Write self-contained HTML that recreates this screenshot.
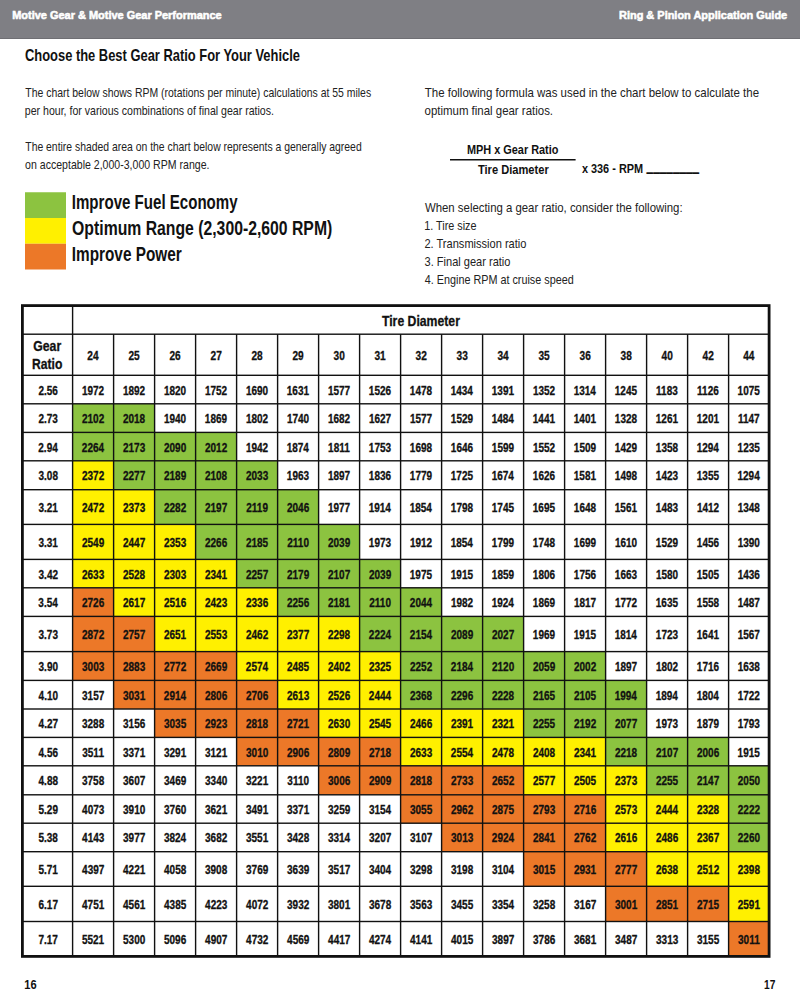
<!DOCTYPE html>
<html><head><meta charset="utf-8"><title>Ring &amp; Pinion Application Guide</title>
<style>
html,body{margin:0;padding:0;background:#fff;}
body{width:800px;height:994px;overflow:hidden;}
svg{display:block;font-family:"Liberation Sans",Arial,sans-serif;}
</style></head><body>
<svg width="800" height="994" viewBox="0 0 800 994">
<rect x="0" y="0" width="800" height="38" fill="#7f7f84"/>
<rect x="0" y="38" width="800" height="1" fill="#6f6f74"/>
<text x="12.19" y="18.90" font-size="11.2" font-weight="bold" fill="#fff" textLength="209.53" lengthAdjust="spacingAndGlyphs" stroke="#fff" stroke-width="0.55">Motive Gear &amp; Motive Gear Performance</text>
<text x="618.99" y="18.90" font-size="11.2" font-weight="bold" fill="#fff" textLength="168.21" lengthAdjust="spacingAndGlyphs" stroke="#fff" stroke-width="0.55">Ring &amp; Pinion Application Guide</text>
<text x="24.98" y="60.50" font-size="16.4" font-weight="bold" fill="#111" textLength="275.00" lengthAdjust="spacingAndGlyphs">Choose the Best Gear Ratio For Your Vehicle</text>
<text x="25.29" y="96.50" font-size="13.1" font-weight="normal" fill="#222" textLength="345.83" lengthAdjust="spacingAndGlyphs">The chart below shows RPM (rotations per minute) calculations at 55 miles</text>
<text x="24.81" y="114.50" font-size="13.1" font-weight="normal" fill="#222" textLength="249.18" lengthAdjust="spacingAndGlyphs">per hour, for various combinations of final gear ratios.</text>
<text x="25.29" y="150.75" font-size="13.1" font-weight="normal" fill="#222" textLength="336.38" lengthAdjust="spacingAndGlyphs">The entire shaded area on the chart below represents a generally agreed</text>
<text x="25.08" y="168.75" font-size="13.1" font-weight="normal" fill="#222" textLength="184.39" lengthAdjust="spacingAndGlyphs">on acceptable 2,000-3,000 RPM range.</text>
<rect x="25" y="192.25" width="41" height="25.75" fill="#8cc340"/>
<rect x="25" y="218" width="41" height="25.75" fill="#fff000"/>
<rect x="25" y="243.75" width="41" height="25.75" fill="#ec7828"/>
<text x="71.77" y="209.40" font-size="19.8" font-weight="bold" fill="#111" textLength="165.84" lengthAdjust="spacingAndGlyphs">Improve Fuel Economy</text>
<text x="72.12" y="235.00" font-size="19.8" font-weight="bold" fill="#111" textLength="260.16" lengthAdjust="spacingAndGlyphs">Optimum Range (2,300-2,600 RPM)</text>
<text x="71.75" y="260.60" font-size="19.8" font-weight="bold" fill="#111" textLength="109.96" lengthAdjust="spacingAndGlyphs">Improve Power</text>
<text x="424.77" y="96.50" font-size="13.1" font-weight="normal" fill="#222" textLength="334.27" lengthAdjust="spacingAndGlyphs">The following formula was used in the chart below to calculate the</text>
<text x="424.54" y="114.50" font-size="13.1" font-weight="normal" fill="#222" textLength="128.51" lengthAdjust="spacingAndGlyphs">optimum final gear ratios.</text>
<text x="466.89" y="153.70" font-size="13.7" font-weight="bold" fill="#111" textLength="91.56" lengthAdjust="spacingAndGlyphs">MPH x Gear Ratio</text>
<rect x="450" y="159" width="125.6" height="1.5" fill="#111"/>
<text x="477.89" y="174.20" font-size="13.7" font-weight="bold" fill="#111" textLength="70.86" lengthAdjust="spacingAndGlyphs">Tire Diameter</text>
<text x="581.89" y="172.70" font-size="13.7" font-weight="bold" fill="#111" textLength="61.26" lengthAdjust="spacingAndGlyphs">x 336 - RPM</text>
<text x="646.62" y="168.50" font-size="44" font-weight="bold" fill="#111" textLength="52.56" lengthAdjust="spacingAndGlyphs">________</text>
<text x="424.94" y="212.00" font-size="13.1" font-weight="normal" fill="#222" textLength="257.63" lengthAdjust="spacingAndGlyphs">When selecting a gear ratio, consider the following:</text>
<text x="424.19" y="230.00" font-size="13.1" font-weight="normal" fill="#222" textLength="52.30" lengthAdjust="spacingAndGlyphs">1. Tire size</text>
<text x="424.45" y="247.75" font-size="13.1" font-weight="normal" fill="#222" textLength="102.00" lengthAdjust="spacingAndGlyphs">2. Transmission ratio</text>
<text x="424.56" y="265.75" font-size="13.1" font-weight="normal" fill="#222" textLength="85.90" lengthAdjust="spacingAndGlyphs">3. Final gear ratio</text>
<text x="424.78" y="283.75" font-size="13.1" font-weight="normal" fill="#222" textLength="148.92" lengthAdjust="spacingAndGlyphs">4. Engine RPM at cruise speed</text>
<rect x="21.0" y="304.2" width="749.5" height="653.5999999999999" fill="#fff"/>
<rect x="72.60" y="403.80" width="41.00" height="28.60" fill="#8cc340"/>
<rect x="113.60" y="403.80" width="41.00" height="28.60" fill="#8cc340"/>
<rect x="72.60" y="432.40" width="41.00" height="28.40" fill="#8cc340"/>
<rect x="113.60" y="432.40" width="41.00" height="28.40" fill="#8cc340"/>
<rect x="154.60" y="432.40" width="41.00" height="28.40" fill="#8cc340"/>
<rect x="195.60" y="432.40" width="41.00" height="28.40" fill="#8cc340"/>
<rect x="72.60" y="460.80" width="41.00" height="28.90" fill="#fff000"/>
<rect x="113.60" y="460.80" width="41.00" height="28.90" fill="#8cc340"/>
<rect x="154.60" y="460.80" width="41.00" height="28.90" fill="#8cc340"/>
<rect x="195.60" y="460.80" width="41.00" height="28.90" fill="#8cc340"/>
<rect x="236.60" y="460.80" width="41.00" height="28.90" fill="#8cc340"/>
<rect x="72.60" y="489.70" width="41.00" height="34.70" fill="#fff000"/>
<rect x="113.60" y="489.70" width="41.00" height="34.70" fill="#fff000"/>
<rect x="154.60" y="489.70" width="41.00" height="34.70" fill="#8cc340"/>
<rect x="195.60" y="489.70" width="41.00" height="34.70" fill="#8cc340"/>
<rect x="236.60" y="489.70" width="41.00" height="34.70" fill="#8cc340"/>
<rect x="277.60" y="489.70" width="41.00" height="34.70" fill="#8cc340"/>
<rect x="72.60" y="524.40" width="41.00" height="35.00" fill="#fff000"/>
<rect x="113.60" y="524.40" width="41.00" height="35.00" fill="#fff000"/>
<rect x="154.60" y="524.40" width="41.00" height="35.00" fill="#fff000"/>
<rect x="195.60" y="524.40" width="41.00" height="35.00" fill="#8cc340"/>
<rect x="236.60" y="524.40" width="41.00" height="35.00" fill="#8cc340"/>
<rect x="277.60" y="524.40" width="41.00" height="35.00" fill="#8cc340"/>
<rect x="318.60" y="524.40" width="41.00" height="35.00" fill="#8cc340"/>
<rect x="72.60" y="559.40" width="41.00" height="28.40" fill="#fff000"/>
<rect x="113.60" y="559.40" width="41.00" height="28.40" fill="#fff000"/>
<rect x="154.60" y="559.40" width="41.00" height="28.40" fill="#fff000"/>
<rect x="195.60" y="559.40" width="41.00" height="28.40" fill="#fff000"/>
<rect x="236.60" y="559.40" width="41.00" height="28.40" fill="#8cc340"/>
<rect x="277.60" y="559.40" width="41.00" height="28.40" fill="#8cc340"/>
<rect x="318.60" y="559.40" width="41.00" height="28.40" fill="#8cc340"/>
<rect x="359.60" y="559.40" width="41.00" height="28.40" fill="#8cc340"/>
<rect x="72.60" y="587.80" width="41.00" height="28.60" fill="#ec7828"/>
<rect x="113.60" y="587.80" width="41.00" height="28.60" fill="#fff000"/>
<rect x="154.60" y="587.80" width="41.00" height="28.60" fill="#fff000"/>
<rect x="195.60" y="587.80" width="41.00" height="28.60" fill="#fff000"/>
<rect x="236.60" y="587.80" width="41.00" height="28.60" fill="#fff000"/>
<rect x="277.60" y="587.80" width="41.00" height="28.60" fill="#8cc340"/>
<rect x="318.60" y="587.80" width="41.00" height="28.60" fill="#8cc340"/>
<rect x="359.60" y="587.80" width="41.00" height="28.60" fill="#8cc340"/>
<rect x="400.60" y="587.80" width="41.00" height="28.60" fill="#8cc340"/>
<rect x="72.60" y="616.40" width="41.00" height="35.20" fill="#ec7828"/>
<rect x="113.60" y="616.40" width="41.00" height="35.20" fill="#ec7828"/>
<rect x="154.60" y="616.40" width="41.00" height="35.20" fill="#fff000"/>
<rect x="195.60" y="616.40" width="41.00" height="35.20" fill="#fff000"/>
<rect x="236.60" y="616.40" width="41.00" height="35.20" fill="#fff000"/>
<rect x="277.60" y="616.40" width="41.00" height="35.20" fill="#fff000"/>
<rect x="318.60" y="616.40" width="41.00" height="35.20" fill="#fff000"/>
<rect x="359.60" y="616.40" width="41.00" height="35.20" fill="#8cc340"/>
<rect x="400.60" y="616.40" width="41.00" height="35.20" fill="#8cc340"/>
<rect x="441.60" y="616.40" width="41.00" height="35.20" fill="#8cc340"/>
<rect x="482.60" y="616.40" width="41.00" height="35.20" fill="#8cc340"/>
<rect x="72.60" y="651.60" width="41.00" height="28.80" fill="#ec7828"/>
<rect x="113.60" y="651.60" width="41.00" height="28.80" fill="#ec7828"/>
<rect x="154.60" y="651.60" width="41.00" height="28.80" fill="#ec7828"/>
<rect x="195.60" y="651.60" width="41.00" height="28.80" fill="#ec7828"/>
<rect x="236.60" y="651.60" width="41.00" height="28.80" fill="#fff000"/>
<rect x="277.60" y="651.60" width="41.00" height="28.80" fill="#fff000"/>
<rect x="318.60" y="651.60" width="41.00" height="28.80" fill="#fff000"/>
<rect x="359.60" y="651.60" width="41.00" height="28.80" fill="#fff000"/>
<rect x="400.60" y="651.60" width="41.00" height="28.80" fill="#8cc340"/>
<rect x="441.60" y="651.60" width="41.00" height="28.80" fill="#8cc340"/>
<rect x="482.60" y="651.60" width="41.00" height="28.80" fill="#8cc340"/>
<rect x="523.60" y="651.60" width="41.00" height="28.80" fill="#8cc340"/>
<rect x="564.60" y="651.60" width="41.00" height="28.80" fill="#8cc340"/>
<rect x="113.60" y="680.40" width="41.00" height="28.60" fill="#ec7828"/>
<rect x="154.60" y="680.40" width="41.00" height="28.60" fill="#ec7828"/>
<rect x="195.60" y="680.40" width="41.00" height="28.60" fill="#ec7828"/>
<rect x="236.60" y="680.40" width="41.00" height="28.60" fill="#ec7828"/>
<rect x="277.60" y="680.40" width="41.00" height="28.60" fill="#fff000"/>
<rect x="318.60" y="680.40" width="41.00" height="28.60" fill="#fff000"/>
<rect x="359.60" y="680.40" width="41.00" height="28.60" fill="#fff000"/>
<rect x="400.60" y="680.40" width="41.00" height="28.60" fill="#8cc340"/>
<rect x="441.60" y="680.40" width="41.00" height="28.60" fill="#8cc340"/>
<rect x="482.60" y="680.40" width="41.00" height="28.60" fill="#8cc340"/>
<rect x="523.60" y="680.40" width="41.00" height="28.60" fill="#8cc340"/>
<rect x="564.60" y="680.40" width="41.00" height="28.60" fill="#8cc340"/>
<rect x="605.60" y="680.40" width="41.00" height="28.60" fill="#8cc340"/>
<rect x="154.60" y="709.00" width="41.00" height="28.40" fill="#ec7828"/>
<rect x="195.60" y="709.00" width="41.00" height="28.40" fill="#ec7828"/>
<rect x="236.60" y="709.00" width="41.00" height="28.40" fill="#ec7828"/>
<rect x="277.60" y="709.00" width="41.00" height="28.40" fill="#ec7828"/>
<rect x="318.60" y="709.00" width="41.00" height="28.40" fill="#fff000"/>
<rect x="359.60" y="709.00" width="41.00" height="28.40" fill="#fff000"/>
<rect x="400.60" y="709.00" width="41.00" height="28.40" fill="#fff000"/>
<rect x="441.60" y="709.00" width="41.00" height="28.40" fill="#fff000"/>
<rect x="482.60" y="709.00" width="41.00" height="28.40" fill="#fff000"/>
<rect x="523.60" y="709.00" width="41.00" height="28.40" fill="#8cc340"/>
<rect x="564.60" y="709.00" width="41.00" height="28.40" fill="#8cc340"/>
<rect x="605.60" y="709.00" width="41.00" height="28.40" fill="#8cc340"/>
<rect x="236.60" y="737.40" width="41.00" height="28.40" fill="#ec7828"/>
<rect x="277.60" y="737.40" width="41.00" height="28.40" fill="#ec7828"/>
<rect x="318.60" y="737.40" width="41.00" height="28.40" fill="#ec7828"/>
<rect x="359.60" y="737.40" width="41.00" height="28.40" fill="#ec7828"/>
<rect x="400.60" y="737.40" width="41.00" height="28.40" fill="#fff000"/>
<rect x="441.60" y="737.40" width="41.00" height="28.40" fill="#fff000"/>
<rect x="482.60" y="737.40" width="41.00" height="28.40" fill="#fff000"/>
<rect x="523.60" y="737.40" width="41.00" height="28.40" fill="#fff000"/>
<rect x="564.60" y="737.40" width="41.00" height="28.40" fill="#fff000"/>
<rect x="605.60" y="737.40" width="41.00" height="28.40" fill="#8cc340"/>
<rect x="646.60" y="737.40" width="41.00" height="28.40" fill="#8cc340"/>
<rect x="687.60" y="737.40" width="41.00" height="28.40" fill="#8cc340"/>
<rect x="318.60" y="765.80" width="41.00" height="29.00" fill="#ec7828"/>
<rect x="359.60" y="765.80" width="41.00" height="29.00" fill="#ec7828"/>
<rect x="400.60" y="765.80" width="41.00" height="29.00" fill="#ec7828"/>
<rect x="441.60" y="765.80" width="41.00" height="29.00" fill="#ec7828"/>
<rect x="482.60" y="765.80" width="41.00" height="29.00" fill="#ec7828"/>
<rect x="523.60" y="765.80" width="41.00" height="29.00" fill="#fff000"/>
<rect x="564.60" y="765.80" width="41.00" height="29.00" fill="#fff000"/>
<rect x="605.60" y="765.80" width="41.00" height="29.00" fill="#fff000"/>
<rect x="646.60" y="765.80" width="41.00" height="29.00" fill="#8cc340"/>
<rect x="687.60" y="765.80" width="41.00" height="29.00" fill="#8cc340"/>
<rect x="728.60" y="765.80" width="40.60" height="29.00" fill="#8cc340"/>
<rect x="400.60" y="794.80" width="41.00" height="28.40" fill="#ec7828"/>
<rect x="441.60" y="794.80" width="41.00" height="28.40" fill="#ec7828"/>
<rect x="482.60" y="794.80" width="41.00" height="28.40" fill="#ec7828"/>
<rect x="523.60" y="794.80" width="41.00" height="28.40" fill="#ec7828"/>
<rect x="564.60" y="794.80" width="41.00" height="28.40" fill="#ec7828"/>
<rect x="605.60" y="794.80" width="41.00" height="28.40" fill="#fff000"/>
<rect x="646.60" y="794.80" width="41.00" height="28.40" fill="#fff000"/>
<rect x="687.60" y="794.80" width="41.00" height="28.40" fill="#fff000"/>
<rect x="728.60" y="794.80" width="40.60" height="28.40" fill="#8cc340"/>
<rect x="441.60" y="823.20" width="41.00" height="28.50" fill="#ec7828"/>
<rect x="482.60" y="823.20" width="41.00" height="28.50" fill="#ec7828"/>
<rect x="523.60" y="823.20" width="41.00" height="28.50" fill="#ec7828"/>
<rect x="564.60" y="823.20" width="41.00" height="28.50" fill="#ec7828"/>
<rect x="605.60" y="823.20" width="41.00" height="28.50" fill="#fff000"/>
<rect x="646.60" y="823.20" width="41.00" height="28.50" fill="#fff000"/>
<rect x="687.60" y="823.20" width="41.00" height="28.50" fill="#fff000"/>
<rect x="728.60" y="823.20" width="40.60" height="28.50" fill="#8cc340"/>
<rect x="523.60" y="851.70" width="41.00" height="34.60" fill="#ec7828"/>
<rect x="564.60" y="851.70" width="41.00" height="34.60" fill="#ec7828"/>
<rect x="605.60" y="851.70" width="41.00" height="34.60" fill="#ec7828"/>
<rect x="646.60" y="851.70" width="41.00" height="34.60" fill="#fff000"/>
<rect x="687.60" y="851.70" width="41.00" height="34.60" fill="#fff000"/>
<rect x="728.60" y="851.70" width="40.60" height="34.60" fill="#fff000"/>
<rect x="605.60" y="886.30" width="41.00" height="35.20" fill="#ec7828"/>
<rect x="646.60" y="886.30" width="41.00" height="35.20" fill="#ec7828"/>
<rect x="687.60" y="886.30" width="41.00" height="35.20" fill="#ec7828"/>
<rect x="728.60" y="886.30" width="40.60" height="35.20" fill="#fff000"/>
<rect x="728.60" y="921.50" width="40.60" height="34.90" fill="#ec7828"/>
<rect x="71.90" y="305.20" width="1.4" height="651.60" fill="#111"/>
<rect x="112.90" y="334.20" width="1.4" height="622.60" fill="#111"/>
<rect x="153.90" y="334.20" width="1.4" height="622.60" fill="#111"/>
<rect x="194.90" y="334.20" width="1.4" height="622.60" fill="#111"/>
<rect x="235.90" y="334.20" width="1.4" height="622.60" fill="#111"/>
<rect x="276.90" y="334.20" width="1.4" height="622.60" fill="#111"/>
<rect x="317.90" y="334.20" width="1.4" height="622.60" fill="#111"/>
<rect x="358.90" y="334.20" width="1.4" height="622.60" fill="#111"/>
<rect x="399.90" y="334.20" width="1.4" height="622.60" fill="#111"/>
<rect x="440.90" y="334.20" width="1.4" height="622.60" fill="#111"/>
<rect x="481.90" y="334.20" width="1.4" height="622.60" fill="#111"/>
<rect x="522.90" y="334.20" width="1.4" height="622.60" fill="#111"/>
<rect x="563.90" y="334.20" width="1.4" height="622.60" fill="#111"/>
<rect x="604.90" y="334.20" width="1.4" height="622.60" fill="#111"/>
<rect x="645.90" y="334.20" width="1.4" height="622.60" fill="#111"/>
<rect x="686.90" y="334.20" width="1.4" height="622.60" fill="#111"/>
<rect x="727.90" y="334.20" width="1.4" height="622.60" fill="#111"/>
<rect x="22.0" y="333.50" width="747.50" height="1.4" fill="#111"/>
<rect x="22.0" y="374.60" width="747.50" height="1.4" fill="#111"/>
<rect x="22.0" y="403.10" width="747.50" height="1.4" fill="#111"/>
<rect x="22.0" y="431.70" width="747.50" height="1.4" fill="#111"/>
<rect x="22.0" y="460.10" width="747.50" height="1.4" fill="#111"/>
<rect x="22.0" y="489.00" width="747.50" height="1.4" fill="#111"/>
<rect x="22.0" y="523.70" width="747.50" height="1.4" fill="#111"/>
<rect x="22.0" y="558.70" width="747.50" height="1.4" fill="#111"/>
<rect x="22.0" y="587.10" width="747.50" height="1.4" fill="#111"/>
<rect x="22.0" y="615.70" width="747.50" height="1.4" fill="#111"/>
<rect x="22.0" y="650.90" width="747.50" height="1.4" fill="#111"/>
<rect x="22.0" y="679.70" width="747.50" height="1.4" fill="#111"/>
<rect x="22.0" y="708.30" width="747.50" height="1.4" fill="#111"/>
<rect x="22.0" y="736.70" width="747.50" height="1.4" fill="#111"/>
<rect x="22.0" y="765.10" width="747.50" height="1.4" fill="#111"/>
<rect x="22.0" y="794.10" width="747.50" height="1.4" fill="#111"/>
<rect x="22.0" y="822.50" width="747.50" height="1.4" fill="#111"/>
<rect x="22.0" y="851.00" width="747.50" height="1.4" fill="#111"/>
<rect x="22.0" y="885.60" width="747.50" height="1.4" fill="#111"/>
<rect x="22.0" y="920.80" width="747.50" height="1.4" fill="#111"/>
<rect x="22.40" y="305.60" width="746.70" height="650.80" fill="none" stroke="#111" stroke-width="2.8"/>
<text x="381.98" y="325.60" font-size="15.1" font-weight="bold" fill="#111" textLength="77.94" lengthAdjust="spacingAndGlyphs" stroke="#111" stroke-width="0.3">Tire Diameter</text>
<text x="33.26" y="350.60" font-size="14.2" font-weight="bold" fill="#111" textLength="27.91" lengthAdjust="spacingAndGlyphs" stroke="#111" stroke-width="0.3">Gear</text>
<text x="32.11" y="369.40" font-size="14.2" font-weight="bold" fill="#111" textLength="30.27" lengthAdjust="spacingAndGlyphs" stroke="#111" stroke-width="0.3">Ratio</text>
<text x="87.33" y="359.60" font-size="12.5" font-weight="bold" fill="#111" textLength="11.26" lengthAdjust="spacingAndGlyphs" stroke="#111" stroke-width="0.3">24</text>
<text x="128.43" y="359.60" font-size="12.5" font-weight="bold" fill="#111" textLength="11.26" lengthAdjust="spacingAndGlyphs" stroke="#111" stroke-width="0.3">25</text>
<text x="169.48" y="359.60" font-size="12.5" font-weight="bold" fill="#111" textLength="11.26" lengthAdjust="spacingAndGlyphs" stroke="#111" stroke-width="0.3">26</text>
<text x="210.51" y="359.60" font-size="12.5" font-weight="bold" fill="#111" textLength="11.26" lengthAdjust="spacingAndGlyphs" stroke="#111" stroke-width="0.3">27</text>
<text x="251.46" y="359.60" font-size="12.5" font-weight="bold" fill="#111" textLength="11.26" lengthAdjust="spacingAndGlyphs" stroke="#111" stroke-width="0.3">28</text>
<text x="292.48" y="359.60" font-size="12.5" font-weight="bold" fill="#111" textLength="11.26" lengthAdjust="spacingAndGlyphs" stroke="#111" stroke-width="0.3">29</text>
<text x="333.56" y="359.60" font-size="12.5" font-weight="bold" fill="#111" textLength="11.26" lengthAdjust="spacingAndGlyphs" stroke="#111" stroke-width="0.3">30</text>
<text x="374.48" y="359.60" font-size="12.5" font-weight="bold" fill="#111" textLength="11.26" lengthAdjust="spacingAndGlyphs" stroke="#111" stroke-width="0.3">31</text>
<text x="415.56" y="359.60" font-size="12.5" font-weight="bold" fill="#111" textLength="11.26" lengthAdjust="spacingAndGlyphs" stroke="#111" stroke-width="0.3">32</text>
<text x="456.53" y="359.60" font-size="12.5" font-weight="bold" fill="#111" textLength="11.26" lengthAdjust="spacingAndGlyphs" stroke="#111" stroke-width="0.3">33</text>
<text x="497.38" y="359.60" font-size="12.5" font-weight="bold" fill="#111" textLength="11.26" lengthAdjust="spacingAndGlyphs" stroke="#111" stroke-width="0.3">34</text>
<text x="538.48" y="359.60" font-size="12.5" font-weight="bold" fill="#111" textLength="11.26" lengthAdjust="spacingAndGlyphs" stroke="#111" stroke-width="0.3">35</text>
<text x="579.53" y="359.60" font-size="12.5" font-weight="bold" fill="#111" textLength="11.26" lengthAdjust="spacingAndGlyphs" stroke="#111" stroke-width="0.3">36</text>
<text x="620.51" y="359.60" font-size="12.5" font-weight="bold" fill="#111" textLength="11.26" lengthAdjust="spacingAndGlyphs" stroke="#111" stroke-width="0.3">38</text>
<text x="661.61" y="359.60" font-size="12.5" font-weight="bold" fill="#111" textLength="11.26" lengthAdjust="spacingAndGlyphs" stroke="#111" stroke-width="0.3">40</text>
<text x="702.61" y="359.60" font-size="12.5" font-weight="bold" fill="#111" textLength="11.26" lengthAdjust="spacingAndGlyphs" stroke="#111" stroke-width="0.3">42</text>
<text x="743.23" y="359.60" font-size="12.5" font-weight="bold" fill="#111" textLength="11.26" lengthAdjust="spacingAndGlyphs" stroke="#111" stroke-width="0.3">44</text>
<text x="38.47" y="394.55" font-size="12.5" font-weight="bold" fill="#111" textLength="19.46" lengthAdjust="spacingAndGlyphs" stroke="#111" stroke-width="0.3">2.56</text>
<text x="81.88" y="394.55" font-size="12.5" font-weight="bold" fill="#111" textLength="22.25" lengthAdjust="spacingAndGlyphs" stroke="#111" stroke-width="0.3">1972</text>
<text x="122.88" y="394.55" font-size="12.5" font-weight="bold" fill="#111" textLength="22.25" lengthAdjust="spacingAndGlyphs" stroke="#111" stroke-width="0.3">1892</text>
<text x="163.88" y="394.55" font-size="12.5" font-weight="bold" fill="#111" textLength="22.25" lengthAdjust="spacingAndGlyphs" stroke="#111" stroke-width="0.3">1820</text>
<text x="204.88" y="394.55" font-size="12.5" font-weight="bold" fill="#111" textLength="22.25" lengthAdjust="spacingAndGlyphs" stroke="#111" stroke-width="0.3">1752</text>
<text x="245.88" y="394.55" font-size="12.5" font-weight="bold" fill="#111" textLength="22.25" lengthAdjust="spacingAndGlyphs" stroke="#111" stroke-width="0.3">1690</text>
<text x="286.80" y="394.55" font-size="12.5" font-weight="bold" fill="#111" textLength="22.25" lengthAdjust="spacingAndGlyphs" stroke="#111" stroke-width="0.3">1631</text>
<text x="327.88" y="394.55" font-size="12.5" font-weight="bold" fill="#111" textLength="22.25" lengthAdjust="spacingAndGlyphs" stroke="#111" stroke-width="0.3">1577</text>
<text x="368.85" y="394.55" font-size="12.5" font-weight="bold" fill="#111" textLength="22.25" lengthAdjust="spacingAndGlyphs" stroke="#111" stroke-width="0.3">1526</text>
<text x="409.82" y="394.55" font-size="12.5" font-weight="bold" fill="#111" textLength="22.25" lengthAdjust="spacingAndGlyphs" stroke="#111" stroke-width="0.3">1478</text>
<text x="450.70" y="394.55" font-size="12.5" font-weight="bold" fill="#111" textLength="22.25" lengthAdjust="spacingAndGlyphs" stroke="#111" stroke-width="0.3">1434</text>
<text x="491.80" y="394.55" font-size="12.5" font-weight="bold" fill="#111" textLength="22.25" lengthAdjust="spacingAndGlyphs" stroke="#111" stroke-width="0.3">1391</text>
<text x="532.88" y="394.55" font-size="12.5" font-weight="bold" fill="#111" textLength="22.25" lengthAdjust="spacingAndGlyphs" stroke="#111" stroke-width="0.3">1352</text>
<text x="573.70" y="394.55" font-size="12.5" font-weight="bold" fill="#111" textLength="22.25" lengthAdjust="spacingAndGlyphs" stroke="#111" stroke-width="0.3">1314</text>
<text x="614.80" y="394.55" font-size="12.5" font-weight="bold" fill="#111" textLength="22.25" lengthAdjust="spacingAndGlyphs" stroke="#111" stroke-width="0.3">1245</text>
<text x="656.12" y="394.55" font-size="12.5" font-weight="bold" fill="#111" textLength="21.70" lengthAdjust="spacingAndGlyphs" stroke="#111" stroke-width="0.3">1183</text>
<text x="697.12" y="394.55" font-size="12.5" font-weight="bold" fill="#111" textLength="21.70" lengthAdjust="spacingAndGlyphs" stroke="#111" stroke-width="0.3">1126</text>
<text x="737.60" y="394.55" font-size="12.5" font-weight="bold" fill="#111" textLength="22.25" lengthAdjust="spacingAndGlyphs" stroke="#111" stroke-width="0.3">1075</text>
<text x="38.47" y="423.10" font-size="12.5" font-weight="bold" fill="#111" textLength="19.46" lengthAdjust="spacingAndGlyphs" stroke="#111" stroke-width="0.3">2.73</text>
<text x="82.00" y="423.10" font-size="12.5" font-weight="bold" fill="#111" textLength="22.25" lengthAdjust="spacingAndGlyphs" stroke="#111" stroke-width="0.3">2102</text>
<text x="122.95" y="423.10" font-size="12.5" font-weight="bold" fill="#111" textLength="22.25" lengthAdjust="spacingAndGlyphs" stroke="#111" stroke-width="0.3">2018</text>
<text x="163.88" y="423.10" font-size="12.5" font-weight="bold" fill="#111" textLength="22.25" lengthAdjust="spacingAndGlyphs" stroke="#111" stroke-width="0.3">1940</text>
<text x="204.85" y="423.10" font-size="12.5" font-weight="bold" fill="#111" textLength="22.25" lengthAdjust="spacingAndGlyphs" stroke="#111" stroke-width="0.3">1869</text>
<text x="245.88" y="423.10" font-size="12.5" font-weight="bold" fill="#111" textLength="22.25" lengthAdjust="spacingAndGlyphs" stroke="#111" stroke-width="0.3">1802</text>
<text x="286.88" y="423.10" font-size="12.5" font-weight="bold" fill="#111" textLength="22.25" lengthAdjust="spacingAndGlyphs" stroke="#111" stroke-width="0.3">1740</text>
<text x="327.88" y="423.10" font-size="12.5" font-weight="bold" fill="#111" textLength="22.25" lengthAdjust="spacingAndGlyphs" stroke="#111" stroke-width="0.3">1682</text>
<text x="368.88" y="423.10" font-size="12.5" font-weight="bold" fill="#111" textLength="22.25" lengthAdjust="spacingAndGlyphs" stroke="#111" stroke-width="0.3">1627</text>
<text x="409.88" y="423.10" font-size="12.5" font-weight="bold" fill="#111" textLength="22.25" lengthAdjust="spacingAndGlyphs" stroke="#111" stroke-width="0.3">1577</text>
<text x="450.85" y="423.10" font-size="12.5" font-weight="bold" fill="#111" textLength="22.25" lengthAdjust="spacingAndGlyphs" stroke="#111" stroke-width="0.3">1529</text>
<text x="491.70" y="423.10" font-size="12.5" font-weight="bold" fill="#111" textLength="22.25" lengthAdjust="spacingAndGlyphs" stroke="#111" stroke-width="0.3">1484</text>
<text x="532.80" y="423.10" font-size="12.5" font-weight="bold" fill="#111" textLength="22.25" lengthAdjust="spacingAndGlyphs" stroke="#111" stroke-width="0.3">1441</text>
<text x="573.80" y="423.10" font-size="12.5" font-weight="bold" fill="#111" textLength="22.25" lengthAdjust="spacingAndGlyphs" stroke="#111" stroke-width="0.3">1401</text>
<text x="614.83" y="423.10" font-size="12.5" font-weight="bold" fill="#111" textLength="22.25" lengthAdjust="spacingAndGlyphs" stroke="#111" stroke-width="0.3">1328</text>
<text x="655.80" y="423.10" font-size="12.5" font-weight="bold" fill="#111" textLength="22.25" lengthAdjust="spacingAndGlyphs" stroke="#111" stroke-width="0.3">1261</text>
<text x="696.80" y="423.10" font-size="12.5" font-weight="bold" fill="#111" textLength="22.25" lengthAdjust="spacingAndGlyphs" stroke="#111" stroke-width="0.3">1201</text>
<text x="737.95" y="423.10" font-size="12.5" font-weight="bold" fill="#111" textLength="21.70" lengthAdjust="spacingAndGlyphs" stroke="#111" stroke-width="0.3">1147</text>
<text x="38.32" y="451.60" font-size="12.5" font-weight="bold" fill="#111" textLength="19.46" lengthAdjust="spacingAndGlyphs" stroke="#111" stroke-width="0.3">2.94</text>
<text x="81.83" y="451.60" font-size="12.5" font-weight="bold" fill="#111" textLength="22.25" lengthAdjust="spacingAndGlyphs" stroke="#111" stroke-width="0.3">2264</text>
<text x="122.97" y="451.60" font-size="12.5" font-weight="bold" fill="#111" textLength="22.25" lengthAdjust="spacingAndGlyphs" stroke="#111" stroke-width="0.3">2173</text>
<text x="164.00" y="451.60" font-size="12.5" font-weight="bold" fill="#111" textLength="22.25" lengthAdjust="spacingAndGlyphs" stroke="#111" stroke-width="0.3">2090</text>
<text x="205.00" y="451.60" font-size="12.5" font-weight="bold" fill="#111" textLength="22.25" lengthAdjust="spacingAndGlyphs" stroke="#111" stroke-width="0.3">2012</text>
<text x="245.88" y="451.60" font-size="12.5" font-weight="bold" fill="#111" textLength="22.25" lengthAdjust="spacingAndGlyphs" stroke="#111" stroke-width="0.3">1942</text>
<text x="286.70" y="451.60" font-size="12.5" font-weight="bold" fill="#111" textLength="22.25" lengthAdjust="spacingAndGlyphs" stroke="#111" stroke-width="0.3">1874</text>
<text x="328.07" y="451.60" font-size="12.5" font-weight="bold" fill="#111" textLength="21.70" lengthAdjust="spacingAndGlyphs" stroke="#111" stroke-width="0.3">1811</text>
<text x="368.85" y="451.60" font-size="12.5" font-weight="bold" fill="#111" textLength="22.25" lengthAdjust="spacingAndGlyphs" stroke="#111" stroke-width="0.3">1753</text>
<text x="409.82" y="451.60" font-size="12.5" font-weight="bold" fill="#111" textLength="22.25" lengthAdjust="spacingAndGlyphs" stroke="#111" stroke-width="0.3">1698</text>
<text x="450.85" y="451.60" font-size="12.5" font-weight="bold" fill="#111" textLength="22.25" lengthAdjust="spacingAndGlyphs" stroke="#111" stroke-width="0.3">1646</text>
<text x="491.85" y="451.60" font-size="12.5" font-weight="bold" fill="#111" textLength="22.25" lengthAdjust="spacingAndGlyphs" stroke="#111" stroke-width="0.3">1599</text>
<text x="532.88" y="451.60" font-size="12.5" font-weight="bold" fill="#111" textLength="22.25" lengthAdjust="spacingAndGlyphs" stroke="#111" stroke-width="0.3">1552</text>
<text x="573.85" y="451.60" font-size="12.5" font-weight="bold" fill="#111" textLength="22.25" lengthAdjust="spacingAndGlyphs" stroke="#111" stroke-width="0.3">1509</text>
<text x="614.85" y="451.60" font-size="12.5" font-weight="bold" fill="#111" textLength="22.25" lengthAdjust="spacingAndGlyphs" stroke="#111" stroke-width="0.3">1429</text>
<text x="655.83" y="451.60" font-size="12.5" font-weight="bold" fill="#111" textLength="22.25" lengthAdjust="spacingAndGlyphs" stroke="#111" stroke-width="0.3">1358</text>
<text x="696.70" y="451.60" font-size="12.5" font-weight="bold" fill="#111" textLength="22.25" lengthAdjust="spacingAndGlyphs" stroke="#111" stroke-width="0.3">1294</text>
<text x="737.60" y="451.60" font-size="12.5" font-weight="bold" fill="#111" textLength="22.25" lengthAdjust="spacingAndGlyphs" stroke="#111" stroke-width="0.3">1235</text>
<text x="38.50" y="480.25" font-size="12.5" font-weight="bold" fill="#111" textLength="19.46" lengthAdjust="spacingAndGlyphs" stroke="#111" stroke-width="0.3">3.08</text>
<text x="82.00" y="480.25" font-size="12.5" font-weight="bold" fill="#111" textLength="22.25" lengthAdjust="spacingAndGlyphs" stroke="#111" stroke-width="0.3">2372</text>
<text x="123.00" y="480.25" font-size="12.5" font-weight="bold" fill="#111" textLength="22.25" lengthAdjust="spacingAndGlyphs" stroke="#111" stroke-width="0.3">2277</text>
<text x="163.97" y="480.25" font-size="12.5" font-weight="bold" fill="#111" textLength="22.25" lengthAdjust="spacingAndGlyphs" stroke="#111" stroke-width="0.3">2189</text>
<text x="204.95" y="480.25" font-size="12.5" font-weight="bold" fill="#111" textLength="22.25" lengthAdjust="spacingAndGlyphs" stroke="#111" stroke-width="0.3">2108</text>
<text x="245.98" y="480.25" font-size="12.5" font-weight="bold" fill="#111" textLength="22.25" lengthAdjust="spacingAndGlyphs" stroke="#111" stroke-width="0.3">2033</text>
<text x="286.85" y="480.25" font-size="12.5" font-weight="bold" fill="#111" textLength="22.25" lengthAdjust="spacingAndGlyphs" stroke="#111" stroke-width="0.3">1963</text>
<text x="327.88" y="480.25" font-size="12.5" font-weight="bold" fill="#111" textLength="22.25" lengthAdjust="spacingAndGlyphs" stroke="#111" stroke-width="0.3">1897</text>
<text x="368.85" y="480.25" font-size="12.5" font-weight="bold" fill="#111" textLength="22.25" lengthAdjust="spacingAndGlyphs" stroke="#111" stroke-width="0.3">1836</text>
<text x="409.85" y="480.25" font-size="12.5" font-weight="bold" fill="#111" textLength="22.25" lengthAdjust="spacingAndGlyphs" stroke="#111" stroke-width="0.3">1779</text>
<text x="450.80" y="480.25" font-size="12.5" font-weight="bold" fill="#111" textLength="22.25" lengthAdjust="spacingAndGlyphs" stroke="#111" stroke-width="0.3">1725</text>
<text x="491.70" y="480.25" font-size="12.5" font-weight="bold" fill="#111" textLength="22.25" lengthAdjust="spacingAndGlyphs" stroke="#111" stroke-width="0.3">1674</text>
<text x="532.85" y="480.25" font-size="12.5" font-weight="bold" fill="#111" textLength="22.25" lengthAdjust="spacingAndGlyphs" stroke="#111" stroke-width="0.3">1626</text>
<text x="573.80" y="480.25" font-size="12.5" font-weight="bold" fill="#111" textLength="22.25" lengthAdjust="spacingAndGlyphs" stroke="#111" stroke-width="0.3">1581</text>
<text x="614.83" y="480.25" font-size="12.5" font-weight="bold" fill="#111" textLength="22.25" lengthAdjust="spacingAndGlyphs" stroke="#111" stroke-width="0.3">1498</text>
<text x="655.85" y="480.25" font-size="12.5" font-weight="bold" fill="#111" textLength="22.25" lengthAdjust="spacingAndGlyphs" stroke="#111" stroke-width="0.3">1423</text>
<text x="696.80" y="480.25" font-size="12.5" font-weight="bold" fill="#111" textLength="22.25" lengthAdjust="spacingAndGlyphs" stroke="#111" stroke-width="0.3">1355</text>
<text x="737.50" y="480.25" font-size="12.5" font-weight="bold" fill="#111" textLength="22.25" lengthAdjust="spacingAndGlyphs" stroke="#111" stroke-width="0.3">1294</text>
<text x="38.47" y="512.05" font-size="12.5" font-weight="bold" fill="#111" textLength="19.46" lengthAdjust="spacingAndGlyphs" stroke="#111" stroke-width="0.3">3.21</text>
<text x="82.00" y="512.05" font-size="12.5" font-weight="bold" fill="#111" textLength="22.25" lengthAdjust="spacingAndGlyphs" stroke="#111" stroke-width="0.3">2472</text>
<text x="122.97" y="512.05" font-size="12.5" font-weight="bold" fill="#111" textLength="22.25" lengthAdjust="spacingAndGlyphs" stroke="#111" stroke-width="0.3">2373</text>
<text x="164.00" y="512.05" font-size="12.5" font-weight="bold" fill="#111" textLength="22.25" lengthAdjust="spacingAndGlyphs" stroke="#111" stroke-width="0.3">2282</text>
<text x="205.00" y="512.05" font-size="12.5" font-weight="bold" fill="#111" textLength="22.25" lengthAdjust="spacingAndGlyphs" stroke="#111" stroke-width="0.3">2197</text>
<text x="246.25" y="512.05" font-size="12.5" font-weight="bold" fill="#111" textLength="21.70" lengthAdjust="spacingAndGlyphs" stroke="#111" stroke-width="0.3">2119</text>
<text x="286.98" y="512.05" font-size="12.5" font-weight="bold" fill="#111" textLength="22.25" lengthAdjust="spacingAndGlyphs" stroke="#111" stroke-width="0.3">2046</text>
<text x="327.88" y="512.05" font-size="12.5" font-weight="bold" fill="#111" textLength="22.25" lengthAdjust="spacingAndGlyphs" stroke="#111" stroke-width="0.3">1977</text>
<text x="368.70" y="512.05" font-size="12.5" font-weight="bold" fill="#111" textLength="22.25" lengthAdjust="spacingAndGlyphs" stroke="#111" stroke-width="0.3">1914</text>
<text x="409.70" y="512.05" font-size="12.5" font-weight="bold" fill="#111" textLength="22.25" lengthAdjust="spacingAndGlyphs" stroke="#111" stroke-width="0.3">1854</text>
<text x="450.82" y="512.05" font-size="12.5" font-weight="bold" fill="#111" textLength="22.25" lengthAdjust="spacingAndGlyphs" stroke="#111" stroke-width="0.3">1798</text>
<text x="491.80" y="512.05" font-size="12.5" font-weight="bold" fill="#111" textLength="22.25" lengthAdjust="spacingAndGlyphs" stroke="#111" stroke-width="0.3">1745</text>
<text x="532.80" y="512.05" font-size="12.5" font-weight="bold" fill="#111" textLength="22.25" lengthAdjust="spacingAndGlyphs" stroke="#111" stroke-width="0.3">1695</text>
<text x="573.83" y="512.05" font-size="12.5" font-weight="bold" fill="#111" textLength="22.25" lengthAdjust="spacingAndGlyphs" stroke="#111" stroke-width="0.3">1648</text>
<text x="614.80" y="512.05" font-size="12.5" font-weight="bold" fill="#111" textLength="22.25" lengthAdjust="spacingAndGlyphs" stroke="#111" stroke-width="0.3">1561</text>
<text x="655.85" y="512.05" font-size="12.5" font-weight="bold" fill="#111" textLength="22.25" lengthAdjust="spacingAndGlyphs" stroke="#111" stroke-width="0.3">1483</text>
<text x="696.88" y="512.05" font-size="12.5" font-weight="bold" fill="#111" textLength="22.25" lengthAdjust="spacingAndGlyphs" stroke="#111" stroke-width="0.3">1412</text>
<text x="737.63" y="512.05" font-size="12.5" font-weight="bold" fill="#111" textLength="22.25" lengthAdjust="spacingAndGlyphs" stroke="#111" stroke-width="0.3">1348</text>
<text x="38.47" y="546.90" font-size="12.5" font-weight="bold" fill="#111" textLength="19.46" lengthAdjust="spacingAndGlyphs" stroke="#111" stroke-width="0.3">3.31</text>
<text x="81.97" y="546.90" font-size="12.5" font-weight="bold" fill="#111" textLength="22.25" lengthAdjust="spacingAndGlyphs" stroke="#111" stroke-width="0.3">2549</text>
<text x="123.00" y="546.90" font-size="12.5" font-weight="bold" fill="#111" textLength="22.25" lengthAdjust="spacingAndGlyphs" stroke="#111" stroke-width="0.3">2447</text>
<text x="163.97" y="546.90" font-size="12.5" font-weight="bold" fill="#111" textLength="22.25" lengthAdjust="spacingAndGlyphs" stroke="#111" stroke-width="0.3">2353</text>
<text x="204.97" y="546.90" font-size="12.5" font-weight="bold" fill="#111" textLength="22.25" lengthAdjust="spacingAndGlyphs" stroke="#111" stroke-width="0.3">2266</text>
<text x="245.93" y="546.90" font-size="12.5" font-weight="bold" fill="#111" textLength="22.25" lengthAdjust="spacingAndGlyphs" stroke="#111" stroke-width="0.3">2185</text>
<text x="287.27" y="546.90" font-size="12.5" font-weight="bold" fill="#111" textLength="21.70" lengthAdjust="spacingAndGlyphs" stroke="#111" stroke-width="0.3">2110</text>
<text x="327.98" y="546.90" font-size="12.5" font-weight="bold" fill="#111" textLength="22.25" lengthAdjust="spacingAndGlyphs" stroke="#111" stroke-width="0.3">2039</text>
<text x="368.85" y="546.90" font-size="12.5" font-weight="bold" fill="#111" textLength="22.25" lengthAdjust="spacingAndGlyphs" stroke="#111" stroke-width="0.3">1973</text>
<text x="409.88" y="546.90" font-size="12.5" font-weight="bold" fill="#111" textLength="22.25" lengthAdjust="spacingAndGlyphs" stroke="#111" stroke-width="0.3">1912</text>
<text x="450.70" y="546.90" font-size="12.5" font-weight="bold" fill="#111" textLength="22.25" lengthAdjust="spacingAndGlyphs" stroke="#111" stroke-width="0.3">1854</text>
<text x="491.85" y="546.90" font-size="12.5" font-weight="bold" fill="#111" textLength="22.25" lengthAdjust="spacingAndGlyphs" stroke="#111" stroke-width="0.3">1799</text>
<text x="532.83" y="546.90" font-size="12.5" font-weight="bold" fill="#111" textLength="22.25" lengthAdjust="spacingAndGlyphs" stroke="#111" stroke-width="0.3">1748</text>
<text x="573.85" y="546.90" font-size="12.5" font-weight="bold" fill="#111" textLength="22.25" lengthAdjust="spacingAndGlyphs" stroke="#111" stroke-width="0.3">1699</text>
<text x="614.88" y="546.90" font-size="12.5" font-weight="bold" fill="#111" textLength="22.25" lengthAdjust="spacingAndGlyphs" stroke="#111" stroke-width="0.3">1610</text>
<text x="655.85" y="546.90" font-size="12.5" font-weight="bold" fill="#111" textLength="22.25" lengthAdjust="spacingAndGlyphs" stroke="#111" stroke-width="0.3">1529</text>
<text x="696.85" y="546.90" font-size="12.5" font-weight="bold" fill="#111" textLength="22.25" lengthAdjust="spacingAndGlyphs" stroke="#111" stroke-width="0.3">1456</text>
<text x="737.68" y="546.90" font-size="12.5" font-weight="bold" fill="#111" textLength="22.25" lengthAdjust="spacingAndGlyphs" stroke="#111" stroke-width="0.3">1390</text>
<text x="38.55" y="578.60" font-size="12.5" font-weight="bold" fill="#111" textLength="19.46" lengthAdjust="spacingAndGlyphs" stroke="#111" stroke-width="0.3">3.42</text>
<text x="81.97" y="578.60" font-size="12.5" font-weight="bold" fill="#111" textLength="22.25" lengthAdjust="spacingAndGlyphs" stroke="#111" stroke-width="0.3">2633</text>
<text x="122.95" y="578.60" font-size="12.5" font-weight="bold" fill="#111" textLength="22.25" lengthAdjust="spacingAndGlyphs" stroke="#111" stroke-width="0.3">2528</text>
<text x="163.97" y="578.60" font-size="12.5" font-weight="bold" fill="#111" textLength="22.25" lengthAdjust="spacingAndGlyphs" stroke="#111" stroke-width="0.3">2303</text>
<text x="204.93" y="578.60" font-size="12.5" font-weight="bold" fill="#111" textLength="22.25" lengthAdjust="spacingAndGlyphs" stroke="#111" stroke-width="0.3">2341</text>
<text x="246.00" y="578.60" font-size="12.5" font-weight="bold" fill="#111" textLength="22.25" lengthAdjust="spacingAndGlyphs" stroke="#111" stroke-width="0.3">2257</text>
<text x="286.98" y="578.60" font-size="12.5" font-weight="bold" fill="#111" textLength="22.25" lengthAdjust="spacingAndGlyphs" stroke="#111" stroke-width="0.3">2179</text>
<text x="328.00" y="578.60" font-size="12.5" font-weight="bold" fill="#111" textLength="22.25" lengthAdjust="spacingAndGlyphs" stroke="#111" stroke-width="0.3">2107</text>
<text x="368.98" y="578.60" font-size="12.5" font-weight="bold" fill="#111" textLength="22.25" lengthAdjust="spacingAndGlyphs" stroke="#111" stroke-width="0.3">2039</text>
<text x="409.80" y="578.60" font-size="12.5" font-weight="bold" fill="#111" textLength="22.25" lengthAdjust="spacingAndGlyphs" stroke="#111" stroke-width="0.3">1975</text>
<text x="450.80" y="578.60" font-size="12.5" font-weight="bold" fill="#111" textLength="22.25" lengthAdjust="spacingAndGlyphs" stroke="#111" stroke-width="0.3">1915</text>
<text x="491.85" y="578.60" font-size="12.5" font-weight="bold" fill="#111" textLength="22.25" lengthAdjust="spacingAndGlyphs" stroke="#111" stroke-width="0.3">1859</text>
<text x="532.85" y="578.60" font-size="12.5" font-weight="bold" fill="#111" textLength="22.25" lengthAdjust="spacingAndGlyphs" stroke="#111" stroke-width="0.3">1806</text>
<text x="573.85" y="578.60" font-size="12.5" font-weight="bold" fill="#111" textLength="22.25" lengthAdjust="spacingAndGlyphs" stroke="#111" stroke-width="0.3">1756</text>
<text x="614.85" y="578.60" font-size="12.5" font-weight="bold" fill="#111" textLength="22.25" lengthAdjust="spacingAndGlyphs" stroke="#111" stroke-width="0.3">1663</text>
<text x="655.88" y="578.60" font-size="12.5" font-weight="bold" fill="#111" textLength="22.25" lengthAdjust="spacingAndGlyphs" stroke="#111" stroke-width="0.3">1580</text>
<text x="696.80" y="578.60" font-size="12.5" font-weight="bold" fill="#111" textLength="22.25" lengthAdjust="spacingAndGlyphs" stroke="#111" stroke-width="0.3">1505</text>
<text x="737.65" y="578.60" font-size="12.5" font-weight="bold" fill="#111" textLength="22.25" lengthAdjust="spacingAndGlyphs" stroke="#111" stroke-width="0.3">1436</text>
<text x="38.37" y="607.10" font-size="12.5" font-weight="bold" fill="#111" textLength="19.46" lengthAdjust="spacingAndGlyphs" stroke="#111" stroke-width="0.3">3.54</text>
<text x="81.97" y="607.10" font-size="12.5" font-weight="bold" fill="#111" textLength="22.25" lengthAdjust="spacingAndGlyphs" stroke="#111" stroke-width="0.3">2726</text>
<text x="123.00" y="607.10" font-size="12.5" font-weight="bold" fill="#111" textLength="22.25" lengthAdjust="spacingAndGlyphs" stroke="#111" stroke-width="0.3">2617</text>
<text x="163.97" y="607.10" font-size="12.5" font-weight="bold" fill="#111" textLength="22.25" lengthAdjust="spacingAndGlyphs" stroke="#111" stroke-width="0.3">2516</text>
<text x="204.97" y="607.10" font-size="12.5" font-weight="bold" fill="#111" textLength="22.25" lengthAdjust="spacingAndGlyphs" stroke="#111" stroke-width="0.3">2423</text>
<text x="245.98" y="607.10" font-size="12.5" font-weight="bold" fill="#111" textLength="22.25" lengthAdjust="spacingAndGlyphs" stroke="#111" stroke-width="0.3">2336</text>
<text x="286.98" y="607.10" font-size="12.5" font-weight="bold" fill="#111" textLength="22.25" lengthAdjust="spacingAndGlyphs" stroke="#111" stroke-width="0.3">2256</text>
<text x="327.93" y="607.10" font-size="12.5" font-weight="bold" fill="#111" textLength="22.25" lengthAdjust="spacingAndGlyphs" stroke="#111" stroke-width="0.3">2181</text>
<text x="369.27" y="607.10" font-size="12.5" font-weight="bold" fill="#111" textLength="21.70" lengthAdjust="spacingAndGlyphs" stroke="#111" stroke-width="0.3">2110</text>
<text x="409.82" y="607.10" font-size="12.5" font-weight="bold" fill="#111" textLength="22.25" lengthAdjust="spacingAndGlyphs" stroke="#111" stroke-width="0.3">2044</text>
<text x="450.88" y="607.10" font-size="12.5" font-weight="bold" fill="#111" textLength="22.25" lengthAdjust="spacingAndGlyphs" stroke="#111" stroke-width="0.3">1982</text>
<text x="491.70" y="607.10" font-size="12.5" font-weight="bold" fill="#111" textLength="22.25" lengthAdjust="spacingAndGlyphs" stroke="#111" stroke-width="0.3">1924</text>
<text x="532.85" y="607.10" font-size="12.5" font-weight="bold" fill="#111" textLength="22.25" lengthAdjust="spacingAndGlyphs" stroke="#111" stroke-width="0.3">1869</text>
<text x="573.88" y="607.10" font-size="12.5" font-weight="bold" fill="#111" textLength="22.25" lengthAdjust="spacingAndGlyphs" stroke="#111" stroke-width="0.3">1817</text>
<text x="614.88" y="607.10" font-size="12.5" font-weight="bold" fill="#111" textLength="22.25" lengthAdjust="spacingAndGlyphs" stroke="#111" stroke-width="0.3">1772</text>
<text x="655.80" y="607.10" font-size="12.5" font-weight="bold" fill="#111" textLength="22.25" lengthAdjust="spacingAndGlyphs" stroke="#111" stroke-width="0.3">1635</text>
<text x="696.83" y="607.10" font-size="12.5" font-weight="bold" fill="#111" textLength="22.25" lengthAdjust="spacingAndGlyphs" stroke="#111" stroke-width="0.3">1558</text>
<text x="737.68" y="607.10" font-size="12.5" font-weight="bold" fill="#111" textLength="22.25" lengthAdjust="spacingAndGlyphs" stroke="#111" stroke-width="0.3">1487</text>
<text x="38.52" y="639.00" font-size="12.5" font-weight="bold" fill="#111" textLength="19.46" lengthAdjust="spacingAndGlyphs" stroke="#111" stroke-width="0.3">3.73</text>
<text x="82.00" y="639.00" font-size="12.5" font-weight="bold" fill="#111" textLength="22.25" lengthAdjust="spacingAndGlyphs" stroke="#111" stroke-width="0.3">2872</text>
<text x="123.00" y="639.00" font-size="12.5" font-weight="bold" fill="#111" textLength="22.25" lengthAdjust="spacingAndGlyphs" stroke="#111" stroke-width="0.3">2757</text>
<text x="163.93" y="639.00" font-size="12.5" font-weight="bold" fill="#111" textLength="22.25" lengthAdjust="spacingAndGlyphs" stroke="#111" stroke-width="0.3">2651</text>
<text x="204.97" y="639.00" font-size="12.5" font-weight="bold" fill="#111" textLength="22.25" lengthAdjust="spacingAndGlyphs" stroke="#111" stroke-width="0.3">2553</text>
<text x="246.00" y="639.00" font-size="12.5" font-weight="bold" fill="#111" textLength="22.25" lengthAdjust="spacingAndGlyphs" stroke="#111" stroke-width="0.3">2462</text>
<text x="287.00" y="639.00" font-size="12.5" font-weight="bold" fill="#111" textLength="22.25" lengthAdjust="spacingAndGlyphs" stroke="#111" stroke-width="0.3">2377</text>
<text x="327.95" y="639.00" font-size="12.5" font-weight="bold" fill="#111" textLength="22.25" lengthAdjust="spacingAndGlyphs" stroke="#111" stroke-width="0.3">2298</text>
<text x="368.82" y="639.00" font-size="12.5" font-weight="bold" fill="#111" textLength="22.25" lengthAdjust="spacingAndGlyphs" stroke="#111" stroke-width="0.3">2224</text>
<text x="409.82" y="639.00" font-size="12.5" font-weight="bold" fill="#111" textLength="22.25" lengthAdjust="spacingAndGlyphs" stroke="#111" stroke-width="0.3">2154</text>
<text x="450.98" y="639.00" font-size="12.5" font-weight="bold" fill="#111" textLength="22.25" lengthAdjust="spacingAndGlyphs" stroke="#111" stroke-width="0.3">2089</text>
<text x="492.00" y="639.00" font-size="12.5" font-weight="bold" fill="#111" textLength="22.25" lengthAdjust="spacingAndGlyphs" stroke="#111" stroke-width="0.3">2027</text>
<text x="532.85" y="639.00" font-size="12.5" font-weight="bold" fill="#111" textLength="22.25" lengthAdjust="spacingAndGlyphs" stroke="#111" stroke-width="0.3">1969</text>
<text x="573.80" y="639.00" font-size="12.5" font-weight="bold" fill="#111" textLength="22.25" lengthAdjust="spacingAndGlyphs" stroke="#111" stroke-width="0.3">1915</text>
<text x="614.70" y="639.00" font-size="12.5" font-weight="bold" fill="#111" textLength="22.25" lengthAdjust="spacingAndGlyphs" stroke="#111" stroke-width="0.3">1814</text>
<text x="655.85" y="639.00" font-size="12.5" font-weight="bold" fill="#111" textLength="22.25" lengthAdjust="spacingAndGlyphs" stroke="#111" stroke-width="0.3">1723</text>
<text x="696.80" y="639.00" font-size="12.5" font-weight="bold" fill="#111" textLength="22.25" lengthAdjust="spacingAndGlyphs" stroke="#111" stroke-width="0.3">1641</text>
<text x="737.68" y="639.00" font-size="12.5" font-weight="bold" fill="#111" textLength="22.25" lengthAdjust="spacingAndGlyphs" stroke="#111" stroke-width="0.3">1567</text>
<text x="38.55" y="671.00" font-size="12.5" font-weight="bold" fill="#111" textLength="19.46" lengthAdjust="spacingAndGlyphs" stroke="#111" stroke-width="0.3">3.90</text>
<text x="82.02" y="671.00" font-size="12.5" font-weight="bold" fill="#111" textLength="22.25" lengthAdjust="spacingAndGlyphs" stroke="#111" stroke-width="0.3">3003</text>
<text x="122.97" y="671.00" font-size="12.5" font-weight="bold" fill="#111" textLength="22.25" lengthAdjust="spacingAndGlyphs" stroke="#111" stroke-width="0.3">2883</text>
<text x="164.00" y="671.00" font-size="12.5" font-weight="bold" fill="#111" textLength="22.25" lengthAdjust="spacingAndGlyphs" stroke="#111" stroke-width="0.3">2772</text>
<text x="204.97" y="671.00" font-size="12.5" font-weight="bold" fill="#111" textLength="22.25" lengthAdjust="spacingAndGlyphs" stroke="#111" stroke-width="0.3">2669</text>
<text x="245.83" y="671.00" font-size="12.5" font-weight="bold" fill="#111" textLength="22.25" lengthAdjust="spacingAndGlyphs" stroke="#111" stroke-width="0.3">2574</text>
<text x="286.93" y="671.00" font-size="12.5" font-weight="bold" fill="#111" textLength="22.25" lengthAdjust="spacingAndGlyphs" stroke="#111" stroke-width="0.3">2485</text>
<text x="328.00" y="671.00" font-size="12.5" font-weight="bold" fill="#111" textLength="22.25" lengthAdjust="spacingAndGlyphs" stroke="#111" stroke-width="0.3">2402</text>
<text x="368.93" y="671.00" font-size="12.5" font-weight="bold" fill="#111" textLength="22.25" lengthAdjust="spacingAndGlyphs" stroke="#111" stroke-width="0.3">2325</text>
<text x="410.00" y="671.00" font-size="12.5" font-weight="bold" fill="#111" textLength="22.25" lengthAdjust="spacingAndGlyphs" stroke="#111" stroke-width="0.3">2252</text>
<text x="450.82" y="671.00" font-size="12.5" font-weight="bold" fill="#111" textLength="22.25" lengthAdjust="spacingAndGlyphs" stroke="#111" stroke-width="0.3">2184</text>
<text x="492.00" y="671.00" font-size="12.5" font-weight="bold" fill="#111" textLength="22.25" lengthAdjust="spacingAndGlyphs" stroke="#111" stroke-width="0.3">2120</text>
<text x="532.98" y="671.00" font-size="12.5" font-weight="bold" fill="#111" textLength="22.25" lengthAdjust="spacingAndGlyphs" stroke="#111" stroke-width="0.3">2059</text>
<text x="574.00" y="671.00" font-size="12.5" font-weight="bold" fill="#111" textLength="22.25" lengthAdjust="spacingAndGlyphs" stroke="#111" stroke-width="0.3">2002</text>
<text x="614.88" y="671.00" font-size="12.5" font-weight="bold" fill="#111" textLength="22.25" lengthAdjust="spacingAndGlyphs" stroke="#111" stroke-width="0.3">1897</text>
<text x="655.88" y="671.00" font-size="12.5" font-weight="bold" fill="#111" textLength="22.25" lengthAdjust="spacingAndGlyphs" stroke="#111" stroke-width="0.3">1802</text>
<text x="696.85" y="671.00" font-size="12.5" font-weight="bold" fill="#111" textLength="22.25" lengthAdjust="spacingAndGlyphs" stroke="#111" stroke-width="0.3">1716</text>
<text x="737.63" y="671.00" font-size="12.5" font-weight="bold" fill="#111" textLength="22.25" lengthAdjust="spacingAndGlyphs" stroke="#111" stroke-width="0.3">1638</text>
<text x="38.60" y="699.70" font-size="12.5" font-weight="bold" fill="#111" textLength="19.46" lengthAdjust="spacingAndGlyphs" stroke="#111" stroke-width="0.3">4.10</text>
<text x="82.05" y="699.70" font-size="12.5" font-weight="bold" fill="#111" textLength="22.25" lengthAdjust="spacingAndGlyphs" stroke="#111" stroke-width="0.3">3157</text>
<text x="122.97" y="699.70" font-size="12.5" font-weight="bold" fill="#111" textLength="22.25" lengthAdjust="spacingAndGlyphs" stroke="#111" stroke-width="0.3">3031</text>
<text x="163.82" y="699.70" font-size="12.5" font-weight="bold" fill="#111" textLength="22.25" lengthAdjust="spacingAndGlyphs" stroke="#111" stroke-width="0.3">2914</text>
<text x="204.97" y="699.70" font-size="12.5" font-weight="bold" fill="#111" textLength="22.25" lengthAdjust="spacingAndGlyphs" stroke="#111" stroke-width="0.3">2806</text>
<text x="245.98" y="699.70" font-size="12.5" font-weight="bold" fill="#111" textLength="22.25" lengthAdjust="spacingAndGlyphs" stroke="#111" stroke-width="0.3">2706</text>
<text x="286.98" y="699.70" font-size="12.5" font-weight="bold" fill="#111" textLength="22.25" lengthAdjust="spacingAndGlyphs" stroke="#111" stroke-width="0.3">2613</text>
<text x="327.98" y="699.70" font-size="12.5" font-weight="bold" fill="#111" textLength="22.25" lengthAdjust="spacingAndGlyphs" stroke="#111" stroke-width="0.3">2526</text>
<text x="368.82" y="699.70" font-size="12.5" font-weight="bold" fill="#111" textLength="22.25" lengthAdjust="spacingAndGlyphs" stroke="#111" stroke-width="0.3">2444</text>
<text x="409.95" y="699.70" font-size="12.5" font-weight="bold" fill="#111" textLength="22.25" lengthAdjust="spacingAndGlyphs" stroke="#111" stroke-width="0.3">2368</text>
<text x="450.98" y="699.70" font-size="12.5" font-weight="bold" fill="#111" textLength="22.25" lengthAdjust="spacingAndGlyphs" stroke="#111" stroke-width="0.3">2296</text>
<text x="491.95" y="699.70" font-size="12.5" font-weight="bold" fill="#111" textLength="22.25" lengthAdjust="spacingAndGlyphs" stroke="#111" stroke-width="0.3">2228</text>
<text x="532.92" y="699.70" font-size="12.5" font-weight="bold" fill="#111" textLength="22.25" lengthAdjust="spacingAndGlyphs" stroke="#111" stroke-width="0.3">2165</text>
<text x="573.92" y="699.70" font-size="12.5" font-weight="bold" fill="#111" textLength="22.25" lengthAdjust="spacingAndGlyphs" stroke="#111" stroke-width="0.3">2105</text>
<text x="614.70" y="699.70" font-size="12.5" font-weight="bold" fill="#111" textLength="22.25" lengthAdjust="spacingAndGlyphs" stroke="#111" stroke-width="0.3">1994</text>
<text x="655.70" y="699.70" font-size="12.5" font-weight="bold" fill="#111" textLength="22.25" lengthAdjust="spacingAndGlyphs" stroke="#111" stroke-width="0.3">1894</text>
<text x="696.70" y="699.70" font-size="12.5" font-weight="bold" fill="#111" textLength="22.25" lengthAdjust="spacingAndGlyphs" stroke="#111" stroke-width="0.3">1804</text>
<text x="737.68" y="699.70" font-size="12.5" font-weight="bold" fill="#111" textLength="22.25" lengthAdjust="spacingAndGlyphs" stroke="#111" stroke-width="0.3">1722</text>
<text x="38.60" y="728.20" font-size="12.5" font-weight="bold" fill="#111" textLength="19.46" lengthAdjust="spacingAndGlyphs" stroke="#111" stroke-width="0.3">4.27</text>
<text x="82.00" y="728.20" font-size="12.5" font-weight="bold" fill="#111" textLength="22.25" lengthAdjust="spacingAndGlyphs" stroke="#111" stroke-width="0.3">3288</text>
<text x="123.02" y="728.20" font-size="12.5" font-weight="bold" fill="#111" textLength="22.25" lengthAdjust="spacingAndGlyphs" stroke="#111" stroke-width="0.3">3156</text>
<text x="163.97" y="728.20" font-size="12.5" font-weight="bold" fill="#111" textLength="22.25" lengthAdjust="spacingAndGlyphs" stroke="#111" stroke-width="0.3">3035</text>
<text x="204.97" y="728.20" font-size="12.5" font-weight="bold" fill="#111" textLength="22.25" lengthAdjust="spacingAndGlyphs" stroke="#111" stroke-width="0.3">2923</text>
<text x="245.95" y="728.20" font-size="12.5" font-weight="bold" fill="#111" textLength="22.25" lengthAdjust="spacingAndGlyphs" stroke="#111" stroke-width="0.3">2818</text>
<text x="286.93" y="728.20" font-size="12.5" font-weight="bold" fill="#111" textLength="22.25" lengthAdjust="spacingAndGlyphs" stroke="#111" stroke-width="0.3">2721</text>
<text x="328.00" y="728.20" font-size="12.5" font-weight="bold" fill="#111" textLength="22.25" lengthAdjust="spacingAndGlyphs" stroke="#111" stroke-width="0.3">2630</text>
<text x="368.93" y="728.20" font-size="12.5" font-weight="bold" fill="#111" textLength="22.25" lengthAdjust="spacingAndGlyphs" stroke="#111" stroke-width="0.3">2545</text>
<text x="409.98" y="728.20" font-size="12.5" font-weight="bold" fill="#111" textLength="22.25" lengthAdjust="spacingAndGlyphs" stroke="#111" stroke-width="0.3">2466</text>
<text x="450.93" y="728.20" font-size="12.5" font-weight="bold" fill="#111" textLength="22.25" lengthAdjust="spacingAndGlyphs" stroke="#111" stroke-width="0.3">2391</text>
<text x="491.93" y="728.20" font-size="12.5" font-weight="bold" fill="#111" textLength="22.25" lengthAdjust="spacingAndGlyphs" stroke="#111" stroke-width="0.3">2321</text>
<text x="532.92" y="728.20" font-size="12.5" font-weight="bold" fill="#111" textLength="22.25" lengthAdjust="spacingAndGlyphs" stroke="#111" stroke-width="0.3">2255</text>
<text x="574.00" y="728.20" font-size="12.5" font-weight="bold" fill="#111" textLength="22.25" lengthAdjust="spacingAndGlyphs" stroke="#111" stroke-width="0.3">2192</text>
<text x="615.00" y="728.20" font-size="12.5" font-weight="bold" fill="#111" textLength="22.25" lengthAdjust="spacingAndGlyphs" stroke="#111" stroke-width="0.3">2077</text>
<text x="655.85" y="728.20" font-size="12.5" font-weight="bold" fill="#111" textLength="22.25" lengthAdjust="spacingAndGlyphs" stroke="#111" stroke-width="0.3">1973</text>
<text x="696.85" y="728.20" font-size="12.5" font-weight="bold" fill="#111" textLength="22.25" lengthAdjust="spacingAndGlyphs" stroke="#111" stroke-width="0.3">1879</text>
<text x="737.65" y="728.20" font-size="12.5" font-weight="bold" fill="#111" textLength="22.25" lengthAdjust="spacingAndGlyphs" stroke="#111" stroke-width="0.3">1793</text>
<text x="38.57" y="756.60" font-size="12.5" font-weight="bold" fill="#111" textLength="19.46" lengthAdjust="spacingAndGlyphs" stroke="#111" stroke-width="0.3">4.56</text>
<text x="82.25" y="756.60" font-size="12.5" font-weight="bold" fill="#111" textLength="21.70" lengthAdjust="spacingAndGlyphs" stroke="#111" stroke-width="0.3">3511</text>
<text x="122.97" y="756.60" font-size="12.5" font-weight="bold" fill="#111" textLength="22.25" lengthAdjust="spacingAndGlyphs" stroke="#111" stroke-width="0.3">3371</text>
<text x="163.97" y="756.60" font-size="12.5" font-weight="bold" fill="#111" textLength="22.25" lengthAdjust="spacingAndGlyphs" stroke="#111" stroke-width="0.3">3291</text>
<text x="204.97" y="756.60" font-size="12.5" font-weight="bold" fill="#111" textLength="22.25" lengthAdjust="spacingAndGlyphs" stroke="#111" stroke-width="0.3">3121</text>
<text x="246.05" y="756.60" font-size="12.5" font-weight="bold" fill="#111" textLength="22.25" lengthAdjust="spacingAndGlyphs" stroke="#111" stroke-width="0.3">3010</text>
<text x="286.98" y="756.60" font-size="12.5" font-weight="bold" fill="#111" textLength="22.25" lengthAdjust="spacingAndGlyphs" stroke="#111" stroke-width="0.3">2906</text>
<text x="327.98" y="756.60" font-size="12.5" font-weight="bold" fill="#111" textLength="22.25" lengthAdjust="spacingAndGlyphs" stroke="#111" stroke-width="0.3">2809</text>
<text x="368.95" y="756.60" font-size="12.5" font-weight="bold" fill="#111" textLength="22.25" lengthAdjust="spacingAndGlyphs" stroke="#111" stroke-width="0.3">2718</text>
<text x="409.98" y="756.60" font-size="12.5" font-weight="bold" fill="#111" textLength="22.25" lengthAdjust="spacingAndGlyphs" stroke="#111" stroke-width="0.3">2633</text>
<text x="450.82" y="756.60" font-size="12.5" font-weight="bold" fill="#111" textLength="22.25" lengthAdjust="spacingAndGlyphs" stroke="#111" stroke-width="0.3">2554</text>
<text x="491.95" y="756.60" font-size="12.5" font-weight="bold" fill="#111" textLength="22.25" lengthAdjust="spacingAndGlyphs" stroke="#111" stroke-width="0.3">2478</text>
<text x="532.95" y="756.60" font-size="12.5" font-weight="bold" fill="#111" textLength="22.25" lengthAdjust="spacingAndGlyphs" stroke="#111" stroke-width="0.3">2408</text>
<text x="573.92" y="756.60" font-size="12.5" font-weight="bold" fill="#111" textLength="22.25" lengthAdjust="spacingAndGlyphs" stroke="#111" stroke-width="0.3">2341</text>
<text x="614.95" y="756.60" font-size="12.5" font-weight="bold" fill="#111" textLength="22.25" lengthAdjust="spacingAndGlyphs" stroke="#111" stroke-width="0.3">2218</text>
<text x="656.00" y="756.60" font-size="12.5" font-weight="bold" fill="#111" textLength="22.25" lengthAdjust="spacingAndGlyphs" stroke="#111" stroke-width="0.3">2107</text>
<text x="696.98" y="756.60" font-size="12.5" font-weight="bold" fill="#111" textLength="22.25" lengthAdjust="spacingAndGlyphs" stroke="#111" stroke-width="0.3">2006</text>
<text x="737.60" y="756.60" font-size="12.5" font-weight="bold" fill="#111" textLength="22.25" lengthAdjust="spacingAndGlyphs" stroke="#111" stroke-width="0.3">1915</text>
<text x="38.55" y="785.30" font-size="12.5" font-weight="bold" fill="#111" textLength="19.46" lengthAdjust="spacingAndGlyphs" stroke="#111" stroke-width="0.3">4.88</text>
<text x="82.00" y="785.30" font-size="12.5" font-weight="bold" fill="#111" textLength="22.25" lengthAdjust="spacingAndGlyphs" stroke="#111" stroke-width="0.3">3758</text>
<text x="123.05" y="785.30" font-size="12.5" font-weight="bold" fill="#111" textLength="22.25" lengthAdjust="spacingAndGlyphs" stroke="#111" stroke-width="0.3">3607</text>
<text x="164.03" y="785.30" font-size="12.5" font-weight="bold" fill="#111" textLength="22.25" lengthAdjust="spacingAndGlyphs" stroke="#111" stroke-width="0.3">3469</text>
<text x="205.05" y="785.30" font-size="12.5" font-weight="bold" fill="#111" textLength="22.25" lengthAdjust="spacingAndGlyphs" stroke="#111" stroke-width="0.3">3340</text>
<text x="245.98" y="785.30" font-size="12.5" font-weight="bold" fill="#111" textLength="22.25" lengthAdjust="spacingAndGlyphs" stroke="#111" stroke-width="0.3">3221</text>
<text x="287.33" y="785.30" font-size="12.5" font-weight="bold" fill="#111" textLength="21.70" lengthAdjust="spacingAndGlyphs" stroke="#111" stroke-width="0.3">3110</text>
<text x="328.03" y="785.30" font-size="12.5" font-weight="bold" fill="#111" textLength="22.25" lengthAdjust="spacingAndGlyphs" stroke="#111" stroke-width="0.3">3006</text>
<text x="368.98" y="785.30" font-size="12.5" font-weight="bold" fill="#111" textLength="22.25" lengthAdjust="spacingAndGlyphs" stroke="#111" stroke-width="0.3">2909</text>
<text x="409.95" y="785.30" font-size="12.5" font-weight="bold" fill="#111" textLength="22.25" lengthAdjust="spacingAndGlyphs" stroke="#111" stroke-width="0.3">2818</text>
<text x="450.98" y="785.30" font-size="12.5" font-weight="bold" fill="#111" textLength="22.25" lengthAdjust="spacingAndGlyphs" stroke="#111" stroke-width="0.3">2733</text>
<text x="492.00" y="785.30" font-size="12.5" font-weight="bold" fill="#111" textLength="22.25" lengthAdjust="spacingAndGlyphs" stroke="#111" stroke-width="0.3">2652</text>
<text x="533.00" y="785.30" font-size="12.5" font-weight="bold" fill="#111" textLength="22.25" lengthAdjust="spacingAndGlyphs" stroke="#111" stroke-width="0.3">2577</text>
<text x="573.92" y="785.30" font-size="12.5" font-weight="bold" fill="#111" textLength="22.25" lengthAdjust="spacingAndGlyphs" stroke="#111" stroke-width="0.3">2505</text>
<text x="614.98" y="785.30" font-size="12.5" font-weight="bold" fill="#111" textLength="22.25" lengthAdjust="spacingAndGlyphs" stroke="#111" stroke-width="0.3">2373</text>
<text x="655.92" y="785.30" font-size="12.5" font-weight="bold" fill="#111" textLength="22.25" lengthAdjust="spacingAndGlyphs" stroke="#111" stroke-width="0.3">2255</text>
<text x="697.00" y="785.30" font-size="12.5" font-weight="bold" fill="#111" textLength="22.25" lengthAdjust="spacingAndGlyphs" stroke="#111" stroke-width="0.3">2147</text>
<text x="737.80" y="785.30" font-size="12.5" font-weight="bold" fill="#111" textLength="22.25" lengthAdjust="spacingAndGlyphs" stroke="#111" stroke-width="0.3">2050</text>
<text x="38.50" y="814.00" font-size="12.5" font-weight="bold" fill="#111" textLength="19.46" lengthAdjust="spacingAndGlyphs" stroke="#111" stroke-width="0.3">5.29</text>
<text x="82.07" y="814.00" font-size="12.5" font-weight="bold" fill="#111" textLength="22.25" lengthAdjust="spacingAndGlyphs" stroke="#111" stroke-width="0.3">4073</text>
<text x="123.05" y="814.00" font-size="12.5" font-weight="bold" fill="#111" textLength="22.25" lengthAdjust="spacingAndGlyphs" stroke="#111" stroke-width="0.3">3910</text>
<text x="164.05" y="814.00" font-size="12.5" font-weight="bold" fill="#111" textLength="22.25" lengthAdjust="spacingAndGlyphs" stroke="#111" stroke-width="0.3">3760</text>
<text x="204.97" y="814.00" font-size="12.5" font-weight="bold" fill="#111" textLength="22.25" lengthAdjust="spacingAndGlyphs" stroke="#111" stroke-width="0.3">3621</text>
<text x="245.98" y="814.00" font-size="12.5" font-weight="bold" fill="#111" textLength="22.25" lengthAdjust="spacingAndGlyphs" stroke="#111" stroke-width="0.3">3491</text>
<text x="286.98" y="814.00" font-size="12.5" font-weight="bold" fill="#111" textLength="22.25" lengthAdjust="spacingAndGlyphs" stroke="#111" stroke-width="0.3">3371</text>
<text x="328.03" y="814.00" font-size="12.5" font-weight="bold" fill="#111" textLength="22.25" lengthAdjust="spacingAndGlyphs" stroke="#111" stroke-width="0.3">3259</text>
<text x="368.88" y="814.00" font-size="12.5" font-weight="bold" fill="#111" textLength="22.25" lengthAdjust="spacingAndGlyphs" stroke="#111" stroke-width="0.3">3154</text>
<text x="409.98" y="814.00" font-size="12.5" font-weight="bold" fill="#111" textLength="22.25" lengthAdjust="spacingAndGlyphs" stroke="#111" stroke-width="0.3">3055</text>
<text x="451.00" y="814.00" font-size="12.5" font-weight="bold" fill="#111" textLength="22.25" lengthAdjust="spacingAndGlyphs" stroke="#111" stroke-width="0.3">2962</text>
<text x="491.93" y="814.00" font-size="12.5" font-weight="bold" fill="#111" textLength="22.25" lengthAdjust="spacingAndGlyphs" stroke="#111" stroke-width="0.3">2875</text>
<text x="532.98" y="814.00" font-size="12.5" font-weight="bold" fill="#111" textLength="22.25" lengthAdjust="spacingAndGlyphs" stroke="#111" stroke-width="0.3">2793</text>
<text x="573.98" y="814.00" font-size="12.5" font-weight="bold" fill="#111" textLength="22.25" lengthAdjust="spacingAndGlyphs" stroke="#111" stroke-width="0.3">2716</text>
<text x="614.98" y="814.00" font-size="12.5" font-weight="bold" fill="#111" textLength="22.25" lengthAdjust="spacingAndGlyphs" stroke="#111" stroke-width="0.3">2573</text>
<text x="655.83" y="814.00" font-size="12.5" font-weight="bold" fill="#111" textLength="22.25" lengthAdjust="spacingAndGlyphs" stroke="#111" stroke-width="0.3">2444</text>
<text x="696.95" y="814.00" font-size="12.5" font-weight="bold" fill="#111" textLength="22.25" lengthAdjust="spacingAndGlyphs" stroke="#111" stroke-width="0.3">2328</text>
<text x="737.80" y="814.00" font-size="12.5" font-weight="bold" fill="#111" textLength="22.25" lengthAdjust="spacingAndGlyphs" stroke="#111" stroke-width="0.3">2222</text>
<text x="38.47" y="842.45" font-size="12.5" font-weight="bold" fill="#111" textLength="19.46" lengthAdjust="spacingAndGlyphs" stroke="#111" stroke-width="0.3">5.38</text>
<text x="82.07" y="842.45" font-size="12.5" font-weight="bold" fill="#111" textLength="22.25" lengthAdjust="spacingAndGlyphs" stroke="#111" stroke-width="0.3">4143</text>
<text x="123.05" y="842.45" font-size="12.5" font-weight="bold" fill="#111" textLength="22.25" lengthAdjust="spacingAndGlyphs" stroke="#111" stroke-width="0.3">3977</text>
<text x="163.88" y="842.45" font-size="12.5" font-weight="bold" fill="#111" textLength="22.25" lengthAdjust="spacingAndGlyphs" stroke="#111" stroke-width="0.3">3824</text>
<text x="205.05" y="842.45" font-size="12.5" font-weight="bold" fill="#111" textLength="22.25" lengthAdjust="spacingAndGlyphs" stroke="#111" stroke-width="0.3">3682</text>
<text x="245.98" y="842.45" font-size="12.5" font-weight="bold" fill="#111" textLength="22.25" lengthAdjust="spacingAndGlyphs" stroke="#111" stroke-width="0.3">3551</text>
<text x="287.00" y="842.45" font-size="12.5" font-weight="bold" fill="#111" textLength="22.25" lengthAdjust="spacingAndGlyphs" stroke="#111" stroke-width="0.3">3428</text>
<text x="327.88" y="842.45" font-size="12.5" font-weight="bold" fill="#111" textLength="22.25" lengthAdjust="spacingAndGlyphs" stroke="#111" stroke-width="0.3">3314</text>
<text x="369.05" y="842.45" font-size="12.5" font-weight="bold" fill="#111" textLength="22.25" lengthAdjust="spacingAndGlyphs" stroke="#111" stroke-width="0.3">3207</text>
<text x="410.05" y="842.45" font-size="12.5" font-weight="bold" fill="#111" textLength="22.25" lengthAdjust="spacingAndGlyphs" stroke="#111" stroke-width="0.3">3107</text>
<text x="451.03" y="842.45" font-size="12.5" font-weight="bold" fill="#111" textLength="22.25" lengthAdjust="spacingAndGlyphs" stroke="#111" stroke-width="0.3">3013</text>
<text x="491.82" y="842.45" font-size="12.5" font-weight="bold" fill="#111" textLength="22.25" lengthAdjust="spacingAndGlyphs" stroke="#111" stroke-width="0.3">2924</text>
<text x="532.92" y="842.45" font-size="12.5" font-weight="bold" fill="#111" textLength="22.25" lengthAdjust="spacingAndGlyphs" stroke="#111" stroke-width="0.3">2841</text>
<text x="574.00" y="842.45" font-size="12.5" font-weight="bold" fill="#111" textLength="22.25" lengthAdjust="spacingAndGlyphs" stroke="#111" stroke-width="0.3">2762</text>
<text x="614.98" y="842.45" font-size="12.5" font-weight="bold" fill="#111" textLength="22.25" lengthAdjust="spacingAndGlyphs" stroke="#111" stroke-width="0.3">2616</text>
<text x="655.98" y="842.45" font-size="12.5" font-weight="bold" fill="#111" textLength="22.25" lengthAdjust="spacingAndGlyphs" stroke="#111" stroke-width="0.3">2486</text>
<text x="697.00" y="842.45" font-size="12.5" font-weight="bold" fill="#111" textLength="22.25" lengthAdjust="spacingAndGlyphs" stroke="#111" stroke-width="0.3">2367</text>
<text x="737.80" y="842.45" font-size="12.5" font-weight="bold" fill="#111" textLength="22.25" lengthAdjust="spacingAndGlyphs" stroke="#111" stroke-width="0.3">2260</text>
<text x="38.45" y="874.00" font-size="12.5" font-weight="bold" fill="#111" textLength="19.46" lengthAdjust="spacingAndGlyphs" stroke="#111" stroke-width="0.3">5.71</text>
<text x="82.10" y="874.00" font-size="12.5" font-weight="bold" fill="#111" textLength="22.25" lengthAdjust="spacingAndGlyphs" stroke="#111" stroke-width="0.3">4397</text>
<text x="123.02" y="874.00" font-size="12.5" font-weight="bold" fill="#111" textLength="22.25" lengthAdjust="spacingAndGlyphs" stroke="#111" stroke-width="0.3">4221</text>
<text x="164.05" y="874.00" font-size="12.5" font-weight="bold" fill="#111" textLength="22.25" lengthAdjust="spacingAndGlyphs" stroke="#111" stroke-width="0.3">4058</text>
<text x="205.00" y="874.00" font-size="12.5" font-weight="bold" fill="#111" textLength="22.25" lengthAdjust="spacingAndGlyphs" stroke="#111" stroke-width="0.3">3908</text>
<text x="246.03" y="874.00" font-size="12.5" font-weight="bold" fill="#111" textLength="22.25" lengthAdjust="spacingAndGlyphs" stroke="#111" stroke-width="0.3">3769</text>
<text x="287.03" y="874.00" font-size="12.5" font-weight="bold" fill="#111" textLength="22.25" lengthAdjust="spacingAndGlyphs" stroke="#111" stroke-width="0.3">3639</text>
<text x="328.05" y="874.00" font-size="12.5" font-weight="bold" fill="#111" textLength="22.25" lengthAdjust="spacingAndGlyphs" stroke="#111" stroke-width="0.3">3517</text>
<text x="368.88" y="874.00" font-size="12.5" font-weight="bold" fill="#111" textLength="22.25" lengthAdjust="spacingAndGlyphs" stroke="#111" stroke-width="0.3">3404</text>
<text x="410.00" y="874.00" font-size="12.5" font-weight="bold" fill="#111" textLength="22.25" lengthAdjust="spacingAndGlyphs" stroke="#111" stroke-width="0.3">3298</text>
<text x="451.00" y="874.00" font-size="12.5" font-weight="bold" fill="#111" textLength="22.25" lengthAdjust="spacingAndGlyphs" stroke="#111" stroke-width="0.3">3198</text>
<text x="491.88" y="874.00" font-size="12.5" font-weight="bold" fill="#111" textLength="22.25" lengthAdjust="spacingAndGlyphs" stroke="#111" stroke-width="0.3">3104</text>
<text x="532.98" y="874.00" font-size="12.5" font-weight="bold" fill="#111" textLength="22.25" lengthAdjust="spacingAndGlyphs" stroke="#111" stroke-width="0.3">3015</text>
<text x="573.92" y="874.00" font-size="12.5" font-weight="bold" fill="#111" textLength="22.25" lengthAdjust="spacingAndGlyphs" stroke="#111" stroke-width="0.3">2931</text>
<text x="615.00" y="874.00" font-size="12.5" font-weight="bold" fill="#111" textLength="22.25" lengthAdjust="spacingAndGlyphs" stroke="#111" stroke-width="0.3">2777</text>
<text x="655.95" y="874.00" font-size="12.5" font-weight="bold" fill="#111" textLength="22.25" lengthAdjust="spacingAndGlyphs" stroke="#111" stroke-width="0.3">2638</text>
<text x="697.00" y="874.00" font-size="12.5" font-weight="bold" fill="#111" textLength="22.25" lengthAdjust="spacingAndGlyphs" stroke="#111" stroke-width="0.3">2512</text>
<text x="737.75" y="874.00" font-size="12.5" font-weight="bold" fill="#111" textLength="22.25" lengthAdjust="spacingAndGlyphs" stroke="#111" stroke-width="0.3">2398</text>
<text x="38.50" y="908.90" font-size="12.5" font-weight="bold" fill="#111" textLength="19.46" lengthAdjust="spacingAndGlyphs" stroke="#111" stroke-width="0.3">6.17</text>
<text x="82.02" y="908.90" font-size="12.5" font-weight="bold" fill="#111" textLength="22.25" lengthAdjust="spacingAndGlyphs" stroke="#111" stroke-width="0.3">4751</text>
<text x="123.02" y="908.90" font-size="12.5" font-weight="bold" fill="#111" textLength="22.25" lengthAdjust="spacingAndGlyphs" stroke="#111" stroke-width="0.3">4561</text>
<text x="164.02" y="908.90" font-size="12.5" font-weight="bold" fill="#111" textLength="22.25" lengthAdjust="spacingAndGlyphs" stroke="#111" stroke-width="0.3">4385</text>
<text x="205.07" y="908.90" font-size="12.5" font-weight="bold" fill="#111" textLength="22.25" lengthAdjust="spacingAndGlyphs" stroke="#111" stroke-width="0.3">4223</text>
<text x="246.10" y="908.90" font-size="12.5" font-weight="bold" fill="#111" textLength="22.25" lengthAdjust="spacingAndGlyphs" stroke="#111" stroke-width="0.3">4072</text>
<text x="287.05" y="908.90" font-size="12.5" font-weight="bold" fill="#111" textLength="22.25" lengthAdjust="spacingAndGlyphs" stroke="#111" stroke-width="0.3">3932</text>
<text x="327.98" y="908.90" font-size="12.5" font-weight="bold" fill="#111" textLength="22.25" lengthAdjust="spacingAndGlyphs" stroke="#111" stroke-width="0.3">3801</text>
<text x="369.00" y="908.90" font-size="12.5" font-weight="bold" fill="#111" textLength="22.25" lengthAdjust="spacingAndGlyphs" stroke="#111" stroke-width="0.3">3678</text>
<text x="410.03" y="908.90" font-size="12.5" font-weight="bold" fill="#111" textLength="22.25" lengthAdjust="spacingAndGlyphs" stroke="#111" stroke-width="0.3">3563</text>
<text x="450.98" y="908.90" font-size="12.5" font-weight="bold" fill="#111" textLength="22.25" lengthAdjust="spacingAndGlyphs" stroke="#111" stroke-width="0.3">3455</text>
<text x="491.88" y="908.90" font-size="12.5" font-weight="bold" fill="#111" textLength="22.25" lengthAdjust="spacingAndGlyphs" stroke="#111" stroke-width="0.3">3354</text>
<text x="533.00" y="908.90" font-size="12.5" font-weight="bold" fill="#111" textLength="22.25" lengthAdjust="spacingAndGlyphs" stroke="#111" stroke-width="0.3">3258</text>
<text x="574.05" y="908.90" font-size="12.5" font-weight="bold" fill="#111" textLength="22.25" lengthAdjust="spacingAndGlyphs" stroke="#111" stroke-width="0.3">3167</text>
<text x="614.98" y="908.90" font-size="12.5" font-weight="bold" fill="#111" textLength="22.25" lengthAdjust="spacingAndGlyphs" stroke="#111" stroke-width="0.3">3001</text>
<text x="655.92" y="908.90" font-size="12.5" font-weight="bold" fill="#111" textLength="22.25" lengthAdjust="spacingAndGlyphs" stroke="#111" stroke-width="0.3">2851</text>
<text x="696.92" y="908.90" font-size="12.5" font-weight="bold" fill="#111" textLength="22.25" lengthAdjust="spacingAndGlyphs" stroke="#111" stroke-width="0.3">2715</text>
<text x="737.73" y="908.90" font-size="12.5" font-weight="bold" fill="#111" textLength="22.25" lengthAdjust="spacingAndGlyphs" stroke="#111" stroke-width="0.3">2591</text>
<text x="38.47" y="943.95" font-size="12.5" font-weight="bold" fill="#111" textLength="19.46" lengthAdjust="spacingAndGlyphs" stroke="#111" stroke-width="0.3">7.17</text>
<text x="81.95" y="943.95" font-size="12.5" font-weight="bold" fill="#111" textLength="22.25" lengthAdjust="spacingAndGlyphs" stroke="#111" stroke-width="0.3">5521</text>
<text x="123.02" y="943.95" font-size="12.5" font-weight="bold" fill="#111" textLength="22.25" lengthAdjust="spacingAndGlyphs" stroke="#111" stroke-width="0.3">5300</text>
<text x="164.00" y="943.95" font-size="12.5" font-weight="bold" fill="#111" textLength="22.25" lengthAdjust="spacingAndGlyphs" stroke="#111" stroke-width="0.3">5096</text>
<text x="205.10" y="943.95" font-size="12.5" font-weight="bold" fill="#111" textLength="22.25" lengthAdjust="spacingAndGlyphs" stroke="#111" stroke-width="0.3">4907</text>
<text x="246.10" y="943.95" font-size="12.5" font-weight="bold" fill="#111" textLength="22.25" lengthAdjust="spacingAndGlyphs" stroke="#111" stroke-width="0.3">4732</text>
<text x="287.08" y="943.95" font-size="12.5" font-weight="bold" fill="#111" textLength="22.25" lengthAdjust="spacingAndGlyphs" stroke="#111" stroke-width="0.3">4569</text>
<text x="328.10" y="943.95" font-size="12.5" font-weight="bold" fill="#111" textLength="22.25" lengthAdjust="spacingAndGlyphs" stroke="#111" stroke-width="0.3">4417</text>
<text x="368.93" y="943.95" font-size="12.5" font-weight="bold" fill="#111" textLength="22.25" lengthAdjust="spacingAndGlyphs" stroke="#111" stroke-width="0.3">4274</text>
<text x="410.03" y="943.95" font-size="12.5" font-weight="bold" fill="#111" textLength="22.25" lengthAdjust="spacingAndGlyphs" stroke="#111" stroke-width="0.3">4141</text>
<text x="451.03" y="943.95" font-size="12.5" font-weight="bold" fill="#111" textLength="22.25" lengthAdjust="spacingAndGlyphs" stroke="#111" stroke-width="0.3">4015</text>
<text x="492.05" y="943.95" font-size="12.5" font-weight="bold" fill="#111" textLength="22.25" lengthAdjust="spacingAndGlyphs" stroke="#111" stroke-width="0.3">3897</text>
<text x="533.02" y="943.95" font-size="12.5" font-weight="bold" fill="#111" textLength="22.25" lengthAdjust="spacingAndGlyphs" stroke="#111" stroke-width="0.3">3786</text>
<text x="573.98" y="943.95" font-size="12.5" font-weight="bold" fill="#111" textLength="22.25" lengthAdjust="spacingAndGlyphs" stroke="#111" stroke-width="0.3">3681</text>
<text x="615.05" y="943.95" font-size="12.5" font-weight="bold" fill="#111" textLength="22.25" lengthAdjust="spacingAndGlyphs" stroke="#111" stroke-width="0.3">3487</text>
<text x="656.02" y="943.95" font-size="12.5" font-weight="bold" fill="#111" textLength="22.25" lengthAdjust="spacingAndGlyphs" stroke="#111" stroke-width="0.3">3313</text>
<text x="696.98" y="943.95" font-size="12.5" font-weight="bold" fill="#111" textLength="22.25" lengthAdjust="spacingAndGlyphs" stroke="#111" stroke-width="0.3">3155</text>
<text x="738.05" y="943.95" font-size="12.5" font-weight="bold" fill="#111" textLength="21.70" lengthAdjust="spacingAndGlyphs" stroke="#111" stroke-width="0.3">3011</text>
<text x="24.33" y="989.00" font-size="13" font-weight="bold" fill="#111" textLength="12.33" lengthAdjust="spacingAndGlyphs">16</text>
<text x="764.09" y="989.00" font-size="13" font-weight="bold" fill="#111" textLength="11.34" lengthAdjust="spacingAndGlyphs">17</text>
</svg>
</body></html>
